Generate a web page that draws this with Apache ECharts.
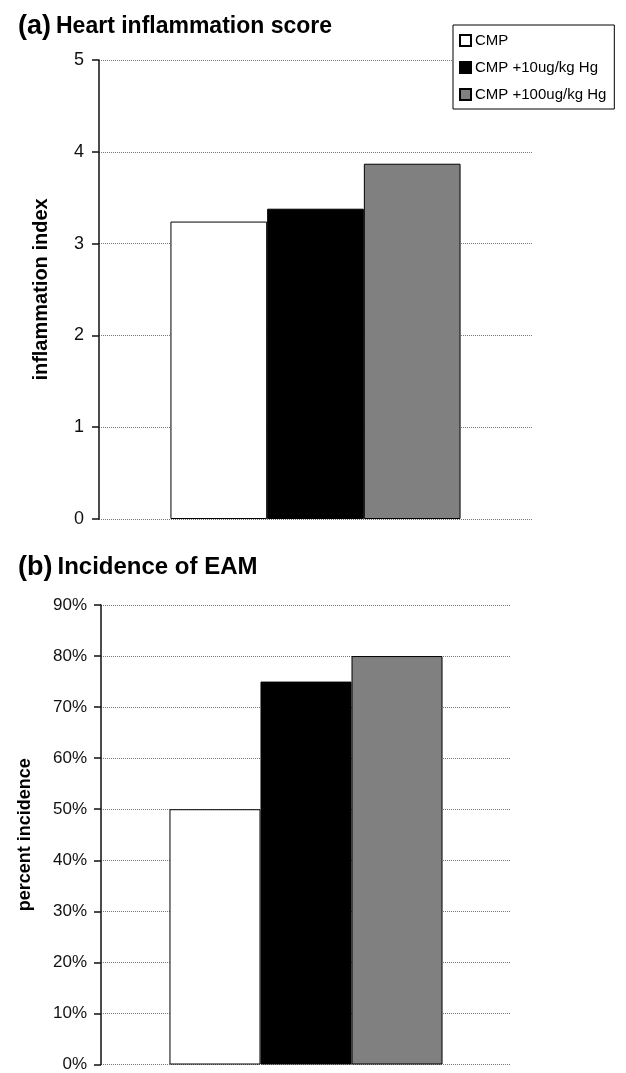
<!DOCTYPE html>
<html>
<head>
<meta charset="utf-8">
<script src="https://cdn.jsdelivr.net/npm/echarts@6/dist/echarts.min.js"></script>
<style>
html,body{margin:0;padding:0;background:#fff;}
#chart{width:626px;height:1073px;}
</style>
</head>
<body>
<div id="chart"></div>
<script>
// ---- data ----
var categories = [''];
var seriesNames = ['CMP', 'CMP +10ug/kg Hg', 'CMP +100ug/kg Hg'];
var seriesColors = ['#ffffff', '#000000', '#808080'];
var scoreValues = [3.24, 3.38, 3.87];      // panel (a) inflammation index
var incidenceValues = [50, 75, 80];        // panel (b) percent incidence
var scoreTicks = [0, 1, 2, 3, 4, 5];
var incidenceTicks = [0, 10, 20, 30, 40, 50, 60, 70, 80, 90];

var FONT = '"Liberation Sans", Arial, sans-serif';

var chart = echarts.init(document.getElementById('chart'), null, {renderer: 'canvas'});

function yAxisCommon(extra) {
  var base = {
    type: 'value',
    nameLocation: 'middle',
    nameRotate: 90,
    axisLine: {show: true, lineStyle: {color: '#111', width: 1.5}},
    axisTick: {show: true, length: 7, inside: false, lineStyle: {color: '#111', width: 1.5}},
    splitLine: {show: true, lineStyle: {color: '#777', type: 'dotted', width: 1}},
    axisLabel: {color: '#111', fontFamily: FONT, fontSize: 17}
  };
  for (var k in extra) base[k] = extra[k];
  return base;
}

var series = [];
seriesNames.forEach(function (name, i) {
  series.push({
    type: 'bar', name: name, xAxisIndex: 0, yAxisIndex: 0,
    data: [scoreValues[i]],
    barGap: '0%', barCategoryGap: '33%',
    itemStyle: {color: seriesColors[i], borderColor: '#000', borderWidth: 1},
    emphasis: {disabled: true}
  });
});
seriesNames.forEach(function (name, i) {
  series.push({
    type: 'bar', name: name, xAxisIndex: 1, yAxisIndex: 1,
    data: [incidenceValues[i]],
    barGap: '0%', barCategoryGap: '33.4%',
    itemStyle: {color: seriesColors[i], borderColor: '#000', borderWidth: 1},
    emphasis: {disabled: true}
  });
});

var option = {
  animation: false,
  backgroundColor: '#fff',
  title: [
    {
      left: 13, top: 8,
      text: '{p|(a)} {t|Heart inflammation score}',
      textStyle: {
        rich: {
          p: {fontFamily: FONT, fontSize: 27, fontWeight: 'bold', color: '#000'},
          t: {fontFamily: FONT, fontSize: 23, fontWeight: 'bold', color: '#000'}
        }
      }
    },
    {
      left: 13, top: 549,
      text: '{p|(b)} {t|Incidence of EAM}',
      textStyle: {
        rich: {
          p: {fontFamily: FONT, fontSize: 27, fontWeight: 'bold', color: '#000'},
          t: {fontFamily: FONT, fontSize: 24, fontWeight: 'bold', color: '#000'}
        }
      }
    }
  ],
  legend: {
    orient: 'vertical',
    left: 453, top: 25,
    data: seriesNames,
    icon: 'rect',
    itemWidth: 11, itemHeight: 11,
    itemGap: 12,
    padding: [8, 8, 7, 6],
    borderColor: '#000', borderWidth: 1,
    backgroundColor: '#fff',
    textStyle: {fontFamily: FONT, fontSize: 15, color: '#000', padding: [0, 0, 0, -1]},
    selectedMode: false
  },
  grid: [
    {left: 99, right: 94, top: 60, bottom: 1073 - 519},
    {left: 101, right: 115, top: 605, bottom: 5}
  ],
  xAxis: [
    {type: 'category', gridIndex: 0, data: categories,
      axisLine: {show: false}, axisTick: {show: false}, axisLabel: {show: false}, splitLine: {show: false}},
    {type: 'category', gridIndex: 1, data: categories,
      axisLine: {show: false}, axisTick: {show: false}, axisLabel: {show: false}, splitLine: {show: false}}
  ],
  yAxis: [
    yAxisCommon({
      gridIndex: 0, min: scoreTicks[0], max: scoreTicks[scoreTicks.length - 1], interval: 1,
      name: 'inflammation index', nameGap: 48,
      nameTextStyle: {fontFamily: FONT, fontSize: 20, fontWeight: 'bold', color: '#000'},
      axisLabel: {color: '#111', fontFamily: FONT, fontSize: 18, margin: 15}
    }),
    yAxisCommon({
      gridIndex: 1, min: incidenceTicks[0], max: incidenceTicks[incidenceTicks.length - 1], interval: 10,
      name: 'percent incidence', nameGap: 67,
      nameTextStyle: {fontFamily: FONT, fontSize: 18, fontWeight: 'bold', color: '#000'},
      axisLabel: {color: '#111', fontFamily: FONT, fontSize: 17, margin: 14, formatter: '{value}%'}
    })
  ],
  series: series
};

chart.setOption(option);
</script>
</body>
</html>
